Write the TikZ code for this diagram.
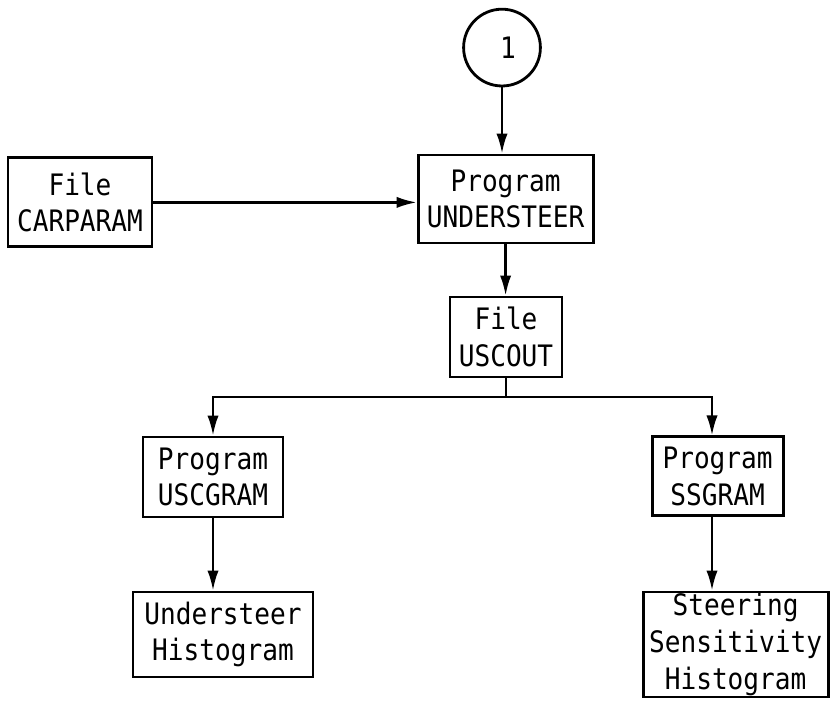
\documentclass[tikz,border=0pt]{standalone}
\usepackage{fontspec}
\setmonofont[FakeStretch=0.885]{DejaVu Sans Mono}
\usetikzlibrary{arrows.meta}

\begin{document}
\begin{tikzpicture}[box/.style={draw,line width=.07cm,inner sep=0pt,align=center,font=\ttfamily\fontsize{21}{26}\selectfont},
	flow/.style={-{Latex[length=.5cm,width=.28cm]},line width=.06cm}]
	\useasboundingbox (0,0) rectangle (20.75,17.7);
	\node[box,circle,minimum size=1.92cm] (start) at (12.55,16.51) {\hspace{.3cm}1};
	\node[box,minimum width=4.375cm,minimum height=2.2cm] (understeer) at (12.64,12.725) {Program\\UNDERSTEER};
	\node[box,minimum width=3.6cm,minimum height=2.225cm] (carparam) at (2,12.64) {File\\CARPARAM};
	\node[box,minimum width=2.8cm,minimum height=2cm] (uscout) at (12.65,9.275) {File\\USCOUT};
	\node[box,minimum width=3.5cm,minimum height=2cm] (uscgram) at (5.325,5.775) {Program\\USCGRAM};
	\node[box,minimum width=3.275cm,minimum height=1.975cm] (ssgram) at (17.94,5.79) {Program\\SSGRAM};
	\node[box,minimum width=4.5cm,minimum height=2.125cm] (ushist) at (5.575,1.8375) {Understeer\\Histogram};
	\node[box,minimum width=4.625cm,minimum height=2.625cm] (sshist) at (18.39,1.5875) {Steering\\Sensitivity\\Histogram};
	\coordinate (split) at (12.65,7.775);
	\draw[flow] (start) -- (start |- understeer.north);
	\draw[flow] (carparam.east) -- (carparam.east -| understeer.west);
	\draw[flow] (understeer.south) -- (understeer.south |- uscout.north);
	\draw[flow] (uscout.south) -- (split) -| (uscgram.north);
	\draw[flow] (split) -| ([xshift=-.14cm]ssgram.north);
	\draw[flow] (uscgram.south) -- (uscgram.south |- ushist.north);
	\draw[flow] ([xshift=-.14cm]ssgram.south) -- ([xshift=-.14cm]ssgram.south |- sshist.north);
\end{tikzpicture}
\end{document}
